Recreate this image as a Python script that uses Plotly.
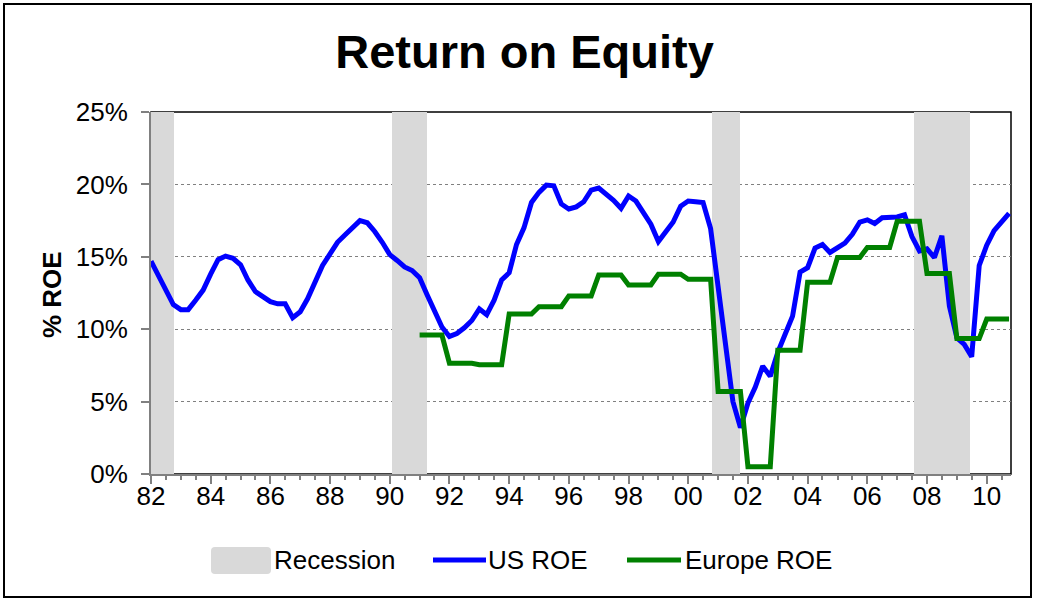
import pandas as pd
import plotly.graph_objects as go

# ---------------- data ----------------
quarters = pd.date_range("1982-01-01", periods=116, freq="QS")

us_roe = [
    14.7, 13.7, 12.7, 11.7, 11.35, 11.35, 12.0, 12.7, 13.8, 14.8,
    15.05, 14.9, 14.45, 13.4, 12.6, 12.25, 11.9, 11.75, 11.75, 10.8,
    11.2, 12.1, 13.2, 14.4, 15.2, 16.0, 16.5, 17.05, 17.5, 17.35,
    16.75, 16.0, 15.15, 14.75, 14.3, 14.05, 13.55, 12.4, 11.25, 10.15,
    9.5, 9.7, 10.1, 10.6, 11.4, 11.0, 12.0, 13.4, 13.9, 15.85,
    17.0, 18.75, 19.45, 19.95, 19.9, 18.65, 18.3, 18.45, 18.8, 19.6,
    19.75, 19.35, 18.9, 18.35, 19.2, 18.85, 18.0, 17.25, 16.05, 16.75,
    17.4, 18.5, 18.85, 18.8, 18.75, 16.95, 13.0, 8.9, 5.0, 3.2,
    4.9, 6.0, 7.45, 6.75, 8.4, 9.65, 10.9, 13.95, 14.25, 15.6,
    15.85, 15.3, 15.6, 15.95, 16.55, 17.4, 17.55, 17.3, 17.7, 17.7,
    17.75, 17.9, 16.4, 15.4, 15.55, 14.95, 16.45, 11.6, 9.4, 8.95,
    8.1, 14.4, 15.8, 16.8, 17.35, 18.0,
]

europe_quarters = pd.date_range("1991-01-01", periods=80, freq="QS")
europe_roe = [
    9.6, 9.6, 9.6, 9.6,          # 1991
    7.65, 7.65, 7.65, 7.65,      # 1992
    7.55, 7.55, 7.55, 7.55,      # 1993
    11.05, 11.05, 11.05, 11.05,  # 1994
    11.55, 11.55, 11.55, 11.55,  # 1995
    12.3, 12.3, 12.3, 12.3,      # 1996
    13.75, 13.75, 13.75, 13.75,  # 1997
    13.05, 13.05, 13.05, 13.05,  # 1998
    13.8, 13.8, 13.8, 13.8,      # 1999
    13.45, 13.45, 13.45, 13.45,  # 2000
    5.7, 5.7, 5.7, 5.7,          # 2001
    0.5, 0.5, 0.5, 0.5,          # 2002
    8.55, 8.55, 8.55, 8.55,      # 2003
    13.25, 13.25, 13.25, 13.25,  # 2004
    14.95, 14.95, 14.95, 14.95,  # 2005
    15.65, 15.65, 15.65, 15.65,  # 2006
    17.45, 17.45, 17.45, 17.45,  # 2007
    13.85, 13.85, 13.85, 13.85,  # 2008
    9.35, 9.35, 9.35, 9.35,      # 2009
    10.7, 10.7, 10.7, 10.7,      # 2010
]

recession_start = ["1982-01-01", "1990-02-02", "2000-10-23", "2007-07-23"]
recession_end = ["1982-10-05", "1991-03-27", "2001-09-27", "2009-06-13"]
recession_level = [25, 25, 25, 25]

y_ticks = [0, 5, 10, 15, 20, 25]
y_tick_labels = ["0%", "5%", "10%", "15%", "20%", "25%"]

# ---------------- figure ----------------
rs = pd.to_datetime(recession_start)
re_ = pd.to_datetime(recession_end)
rec_mid = rs + (re_ - rs) / 2
rec_width = [(e - s).total_seconds() * 1000 for s, e in zip(rs, re_)]

FONT = "Liberation Sans, Arial, sans-serif"
GRAY = "#808080"
REC_COLOR = "#D9D9D9"
US_COLOR = "#0000FF"
EU_COLOR = "#008000"

W, H = 1038, 601
L, R, T, B = 151, 27, 112, 127
PW, PH = W - L - R, H - T - B


def px(xpix):
    return (xpix - L) / PW


def py(ypix):
    return (H - B - ypix) / PH


fig = go.Figure()
fig.add_trace(go.Bar(
    x=rec_mid, y=recession_level, width=rec_width, name="Recession",
    marker=dict(color=REC_COLOR, line=dict(width=0)),
    hoverinfo="skip", showlegend=False,
))
fig.add_trace(go.Scatter(
    x=quarters, y=us_roe, mode="lines", name="US ROE",
    line=dict(color=US_COLOR, width=5), showlegend=False,
))
fig.add_trace(go.Scatter(
    x=europe_quarters, y=europe_roe, mode="lines", name="Europe ROE",
    line=dict(color=EU_COLOR, width=5), showlegend=False,
))

# plot-area border (top/right black), and outer chart border
fig.add_shape(type="rect", xref="paper", yref="paper", x0=0, x1=1, y0=0, y1=1,
              line=dict(color="black", width=1.5), layer="between")
fig.add_shape(type="rect", xref="paper", yref="paper",
              x0=px(4), x1=px(1031), y0=py(597), y1=py(4),
              line=dict(color="black", width=2), layer="above")

# custom legend
ly = py(560)
bx0, bx1, by0, by1 = px(211), px(271), py(574), py(547)
rx, ry = 4 / PW, 4 / PH
box_path = (
    f"M {bx0 + rx},{by0} L {bx1 - rx},{by0} Q {bx1},{by0} {bx1},{by0 + ry} "
    f"L {bx1},{by1 - ry} Q {bx1},{by1} {bx1 - rx},{by1} "
    f"L {bx0 + rx},{by1} Q {bx0},{by1} {bx0},{by1 - ry} "
    f"L {bx0},{by0 + ry} Q {bx0},{by0} {bx0 + rx},{by0} Z"
)
fig.add_shape(type="path", xref="paper", yref="paper", path=box_path,
              fillcolor=REC_COLOR, line=dict(width=0))
fig.add_shape(type="line", xref="paper", yref="paper", x0=px(433), x1=px(486), y0=ly, y1=ly,
              line=dict(color=US_COLOR, width=5))
fig.add_shape(type="line", xref="paper", yref="paper", x0=px(627), x1=px(681), y0=ly, y1=ly,
              line=dict(color=EU_COLOR, width=5))
for label, xpix in [("Recession", 272), ("US ROE", 486), ("Europe ROE", 683)]:
    fig.add_annotation(text=label, xref="paper", yref="paper", x=px(xpix), y=ly,
                       xanchor="left", yanchor="middle", showarrow=False,
                       font=dict(family=FONT, size=26, color="black"))

fig.add_annotation(text="<b>% ROE</b>", xref="paper", yref="paper",
                   x=px(52), y=py(295), textangle=-90, showarrow=False,
                   font=dict(family=FONT, size=26, color="black"),
                   xanchor="center", yanchor="middle")

fig.update_layout(
    width=W, height=H,
    margin=dict(l=L, r=R, t=T, b=B, pad=0),
    paper_bgcolor="white", plot_bgcolor="white",
    font=dict(family=FONT, size=26, color="black"),
    title=dict(text="<b>Return on Equity</b>", x=524.5 / W, xref="container",
               y=1 - 52 / H, yref="container", xanchor="center", yanchor="middle",
               font=dict(family=FONT, size=47, color="black")),
    bargap=0,
    showlegend=False,
    xaxis=dict(
        type="date", range=["1982-01-01", "2010-10-25"],
        tick0="1982-01-01", dtick="M24", tickformat="%y",
        ticks="outside", ticklen=8, tickwidth=1.5, tickcolor=GRAY,
        showline=True, linecolor=GRAY, linewidth=2,
        showgrid=False, zeroline=False, ticklabelstandoff=-10,
        minor=dict(dtick="M6", ticks="outside", ticklen=4, tickcolor=GRAY,
                   tickwidth=1.5, showgrid=False),
        tickfont=dict(family=FONT, size=26, color="black"),
    ),
    yaxis=dict(
        range=[0, 25], tickvals=y_ticks, ticktext=y_tick_labels,
        ticks="outside", ticklen=8, tickwidth=1.5, tickcolor=GRAY,
        showline=True, linecolor=GRAY, linewidth=2,
        showgrid=True, gridcolor=GRAY, gridwidth=1.3, griddash="dot",
        zeroline=False, ticklabelstandoff=8,
        tickfont=dict(family=FONT, size=26, color="black"),
    ),
)

fig.write_html(
    "out.html",
    config={"displayModeBar": False},
    post_script="document.body.style.margin='0';document.body.style.overflow='hidden';",
)
